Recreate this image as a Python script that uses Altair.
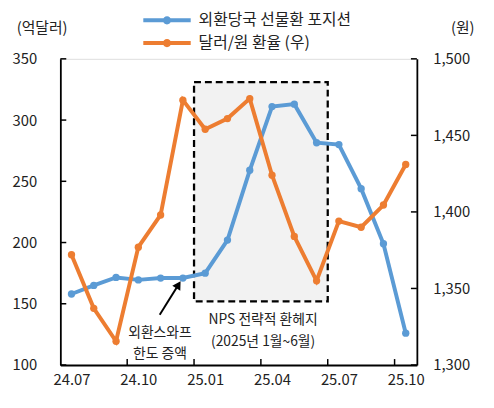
import altair as alt
import pandas as pd

# ---- data ----
months = ["24.07", "24.08", "24.09", "24.10", "24.11", "24.12",
          "25.01", "25.02", "25.03", "25.04", "25.05", "25.06",
          "25.07", "25.08", "25.09", "25.10"]
fx_position = [158, 165, 171.5, 169.5, 171, 171, 175, 202, 259, 311, 313, 281.5, 280, 244, 199, 126]
usdkrw = [1372, 1337, 1315.5, 1377, 1398, 1473, 1454, 1461, 1474, 1424, 1384, 1355, 1394, 1390, 1404.5, 1431]
series_names = ["외환당국 선물환 포지션", "달러/원 환율 (우)"]
series_colors = ["#5B9BD5", "#ED7D31"]
label_months = ["24.07", "24.10", "25.01", "25.04", "25.07", "25.10"]
left_ticks = [100, 150, 200, 250, 300, 350]
right_ticks = [1300, 1350, 1400, 1450, 1500]
left_title = "(억달러)"
right_title = "(원)"
nps_months = ["25.01", "25.06"]
nps_text = ["NPS 전략적 환헤지", "(2025년 1월~6월)"]
swap_text = ["외환스와프", "한도 증액"]

FONT = "Noto Sans CJK KR"
W, H = 361, 310
n = len(months)

df = pd.DataFrame({
    "month": months,
    "idx": list(range(n)),
    "fx": fx_position,
    "krw": usdkrw,
    "s1": series_names[0],
    "s2": series_names[1],
})

label_idx = [months.index(m) for m in label_months]
quarter_bounds = pd.DataFrame({"b": [i - 0.5 for i in label_idx if i > 0]})
lt_df = pd.DataFrame({"v": left_ticks})
rt_df = pd.DataFrame({"v": right_ticks})

box_df = pd.DataFrame({
    "x0": [months.index(nps_months[0]) - 0.5],
    "x1": [months.index(nps_months[1]) + 0.5],
    "y0": [152], "y1": [331],
})
nps_df = pd.DataFrame({"t": nps_text, "x": [8.6, 8.6], "y": [136.3, 118.5]})
swap_df = pd.DataFrame({"t": swap_text, "x": [3.97, 3.97], "y": [125.8, 108.9]})
arrow_df = pd.DataFrame({"x": [3.96], "y": [141], "x2": [4.8], "y2": [165.5]})
head_df = pd.DataFrame({"x": [4.8], "y": [165.5]})

label_arr = "[" + ",".join("'" + m + "'" for m in months) + "]"

x_scale = alt.Scale(domain=[-0.5, n - 0.5], nice=False, zero=False)
yl_scale = alt.Scale(domain=[left_ticks[0], left_ticks[-1]], nice=False, zero=False)
yr_scale = alt.Scale(domain=[right_ticks[0], right_ticks[-1]], nice=False, zero=False)
color_scale = alt.Scale(domain=series_names, range=series_colors)

x_axis = alt.Axis(values=label_idx, labelExpr=label_arr + "[datum.value]", ticks=False,
                  grid=False, title=None, domainColor="black", domainWidth=1.8,
                  labelFontSize=15, labelFont=FONT, labelColor="#222", labelPadding=8)
yl_axis = alt.Axis(values=left_ticks, ticks=False, grid=False, domainColor="black",
                   domainWidth=1.8, labelFontSize=15, labelFont=FONT, labelColor="#222",
                   labelPadding=24, title=left_title, titleAngle=0, titleX=-19, titleY=-32,
                   titleAlign="center", titleBaseline="middle", titleFont=FONT,
                   titleFontSize=15, titleFontWeight="normal", titleColor="#222")
yr_axis = alt.Axis(orient="right", values=right_ticks, labelExpr="format(datum.value, ',')",
                   ticks=False, grid=False,
                   domainColor="black", domainWidth=1.8, labelFontSize=15, labelFont=FONT,
                   labelColor="#222", labelPadding=16, labelAlign="left", title=right_title,
                   titleAngle=0, titleX=46, titleY=-32, titleAlign="center",
                   titleBaseline="middle", titleFont=FONT, titleFontSize=15,
                   titleFontWeight="normal", titleColor="#222")

# legend symbol: a thick line with a dot in the middle (48px long at size 400)
legend_path = ("M-2.4,-0.2H2.4V0.2H-2.4Z "
               "M-0.42,0A0.42,0.42 0 1,1 0.42,0A0.42,0.42 0 1,1 -0.42,0Z")
legend = alt.Legend(title=None, orient="none", legendX=98, legendY=-49, direction="vertical",
                    symbolType=legend_path, symbolSize=400, symbolStrokeWidth=0,
                    labelFont=FONT, labelFontSize=16, labelColor="#222", labelOffset=22,
                    rowPadding=5, padding=0)


def xq(field):
    return alt.X(field, scale=x_scale, axis=x_axis)


def yl(field):
    return alt.Y(field, scale=yl_scale, axis=yl_axis)


def yr(field):
    return alt.Y(field, scale=yr_scale, axis=yr_axis)


# ---- left group ----
box = alt.Chart(box_df).mark_rect(fill="#F2F2F2", stroke="black", strokeDash=[7, 4],
                                  strokeWidth=2.3).encode(
    x=xq("x0:Q"), x2="x1:Q", y=yl("y0:Q"), y2="y1:Q")

blue_line = alt.Chart(df).mark_line(color=series_colors[0], strokeWidth=4).encode(
    x=xq("idx:Q"), y=yl("fx:Q"))

blue_pts = alt.Chart(df).mark_point(filled=True, size=55, opacity=1).encode(
    x=xq("idx:Q"), y=yl("fx:Q"),
    color=alt.Color("s1:N", scale=color_scale, legend=legend))

lticks = alt.Chart(lt_df).mark_rule(color="black", strokeWidth=1.5).encode(
    y=yl("v:Q"), x=alt.value(0), x2=alt.value(6))

bticks = alt.Chart(quarter_bounds).mark_rule(color="black", strokeWidth=1.5).encode(
    x=xq("b:Q"), y=alt.value(H), y2=alt.value(H - 6))

nps_txt = alt.Chart(nps_df).mark_text(font=FONT, fontSize=14, color="#222").encode(
    x=xq("x:Q"), y=yl("y:Q"), text="t:N")

swap_txt = alt.Chart(swap_df).mark_text(font=FONT, fontSize=14, color="#222").encode(
    x=xq("x:Q"), y=yl("y:Q"), text="t:N")

arrow = alt.Chart(arrow_df).mark_rule(color="black", strokeWidth=2).encode(
    x=xq("x:Q"), y=yl("y:Q"), x2="x2:Q", y2="y2:Q")

head = alt.Chart(head_df).mark_point(shape="triangle-up", filled=True, size=90, color="black",
                                     opacity=1, angle=32).encode(
    x=xq("x:Q"), y=yl("y:Q"))

left = alt.layer(box, lticks, bticks, blue_line, blue_pts, nps_txt, swap_txt, arrow, head)

# ---- right group ----
orange_line = alt.Chart(df).mark_line(color=series_colors[1], strokeWidth=4).encode(
    x=xq("idx:Q"), y=yr("krw:Q"))

orange_pts = alt.Chart(df).mark_point(filled=True, size=55, opacity=1).encode(
    x=xq("idx:Q"), y=yr("krw:Q"),
    color=alt.Color("s2:N", scale=color_scale, legend=legend))

rticks = alt.Chart(rt_df).mark_rule(color="black", strokeWidth=1.5).encode(
    y=yr("v:Q"), x=alt.value(W - 6), x2=alt.value(W))

right = alt.layer(rticks, orange_line, orange_pts)

chart = alt.layer(left, right).resolve_scale(y="independent").properties(
    width=W, height=H,
    autosize=alt.AutoSizeParams(type="none"),
    padding={"left": 53, "top": 49, "right": 70, "bottom": 36},
).configure_view(stroke=None).configure(background="white")

chart.save("out.html", embed_options={"renderer": "svg", "actions": False})
